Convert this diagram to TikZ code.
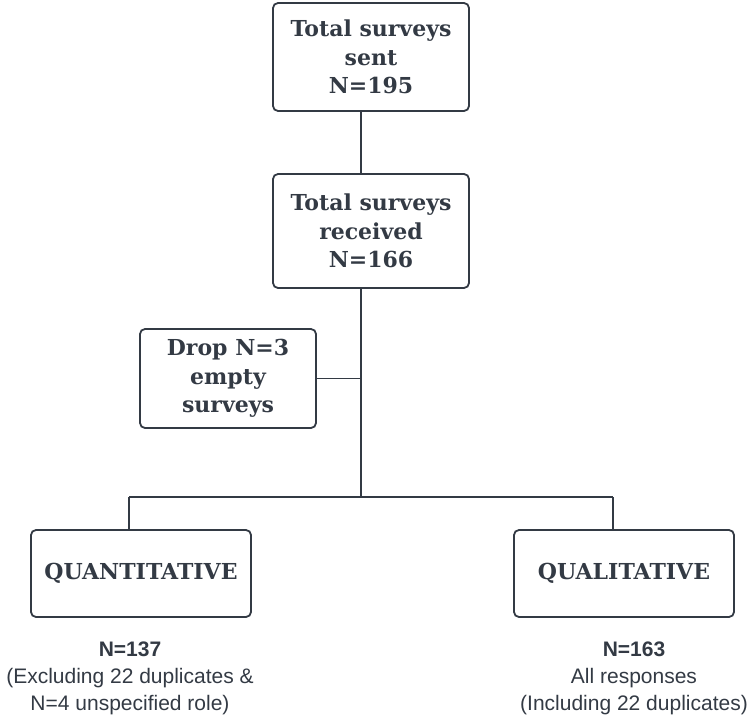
\documentclass[tikz,border=0pt]{standalone}
\usepackage{fontspec}
\setmainfont{DejaVu Serif}
\newfontfamily\lowfont{Liberation Sans}
\definecolor{ink}{HTML}{333A44}
\begin{document}
\begin{tikzpicture}[x=1pt,y=-1pt,
  box/.style={draw=ink,line width=1.8pt,rounded corners=5pt,align=center,
    inner sep=0pt,text=ink,font=\bfseries\fontsize{22}{28.5}\selectfont},
  lowtxt/.style={align=center,text=ink,inner sep=0pt,font=\lowfont\fontsize{21}{27}\selectfont},
  link/.style={draw=ink,line width=1.8pt}]
\useasboundingbox (0,0) rectangle (750,717);
\node[box,minimum width=196pt,minimum height=108pt] (sent) at (371,57) {Total surveys\\sent\\N=195};
\node[box,minimum width=196pt,minimum height=114pt] (recv) at (371,231) {Total surveys\\received\\N=166};
\node[box,minimum width=176pt,minimum height=99pt] (drop) at (228,378.5) {Drop N=3\\empty\\surveys};
\node[box,minimum width=220pt,minimum height=87pt] (quant) at (141,573.5) {QUANTITATIVE};
\node[box,minimum width=220pt,minimum height=87pt] (qual) at (624,573.5) {QUALITATIVE};
\node[lowtxt,anchor=north] (quanttxt) at (130,642) {\textbf{N=137}\\(Excluding 22 duplicates \&\\N=4 unspecified role)};
\node[lowtxt,anchor=north] (qualtxt) at (634,642) {\textbf{N=163}\\All responses\\(Including 22 duplicates)};
\coordinate (j1) at (361,378.5);
\coordinate (j2) at (361,497);
\coordinate (q1) at (129,497);
\coordinate (q2) at (613,497);
\draw[link] (sent.south -| j1) -- (recv.north -| j1);
\draw[link] (recv.south -| j1) -- (j2);
\draw[link] (drop.east) -- (j1);
\draw[link] (q1) -- (q2);
\draw[link] (q1) -- (quant.north -| q1);
\draw[link] (q2) -- (qual.north -| q2);
\end{tikzpicture}
\end{document}
